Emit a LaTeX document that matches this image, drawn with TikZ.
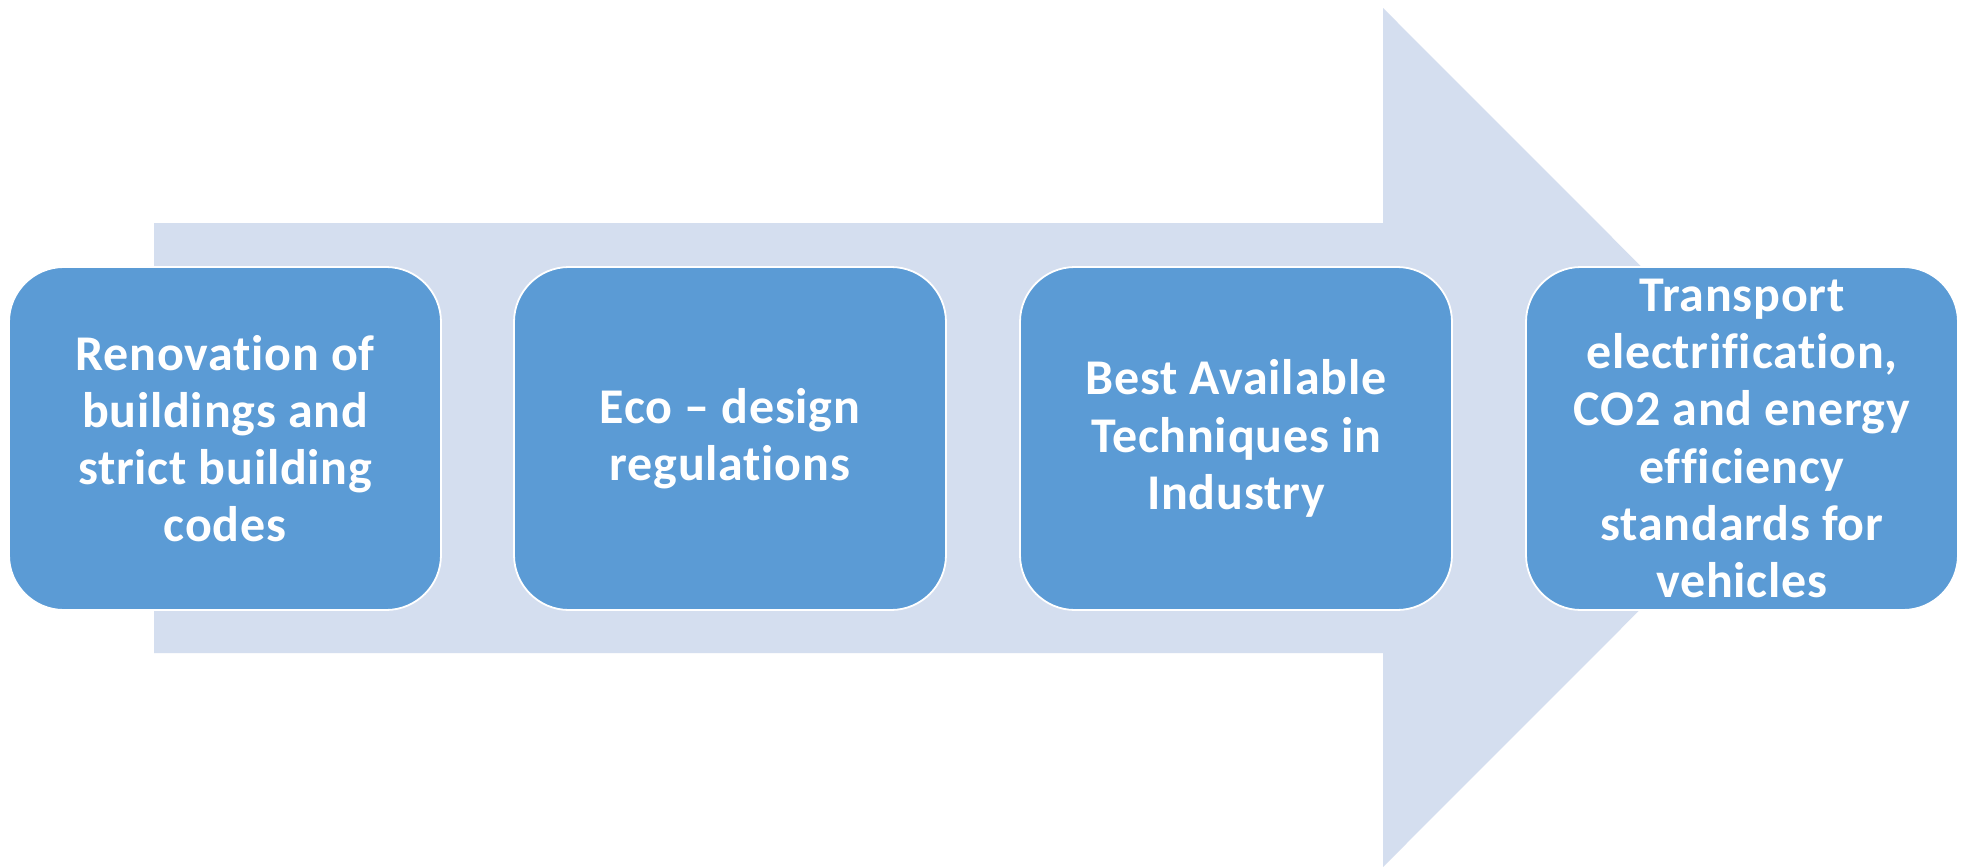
\documentclass[tikz,border=0pt]{standalone}
\usepackage{fontspec}
\setmainfont{Carlito}[Ligatures=NoCommon, LetterSpace=1.5]
\definecolor{arrowfill}{HTML}{D4DEEF}
\definecolor{boxfill}{HTML}{5B9BD5}
\tikzset{
  stagebox/.style={rectangle, rounded corners=27.5pt, fill=boxfill, draw=white, line width=0.9pt,
    minimum width=216pt, minimum height=171.5pt, align=center, text=white,
    font=\fontsize{25pt}{28.6pt}\selectfont\bfseries, inner sep=0pt}
}
\begin{document}
\begin{tikzpicture}[x=0.5pt,y=-0.5pt]
\useasboundingbox (0,0) rectangle (1965,867);
\fill[white] (0,0) rectangle (1965,867);
\fill[arrowfill] (154,223) -- (1383,223) -- (1383,8) -- (1812,437.5) -- (1383,867) -- (1383,653) -- (154,653) -- cycle;
\node[stagebox] (b1) at (225,438.5) {Renovation of\\buildings and\\strict building\\codes};
\node[stagebox] (b2) at (730,438.5) {Eco – design\\regulations};
\node[stagebox] (b3) at (1236,438.5) {Best Available\\Techniques in\\Industry};
\node[stagebox] (b4) at (1742,438.5) {Transport\\electrification,\\CO2 and energy\\efficiency\\standards for\\vehicles};
\end{tikzpicture}
\end{document}
